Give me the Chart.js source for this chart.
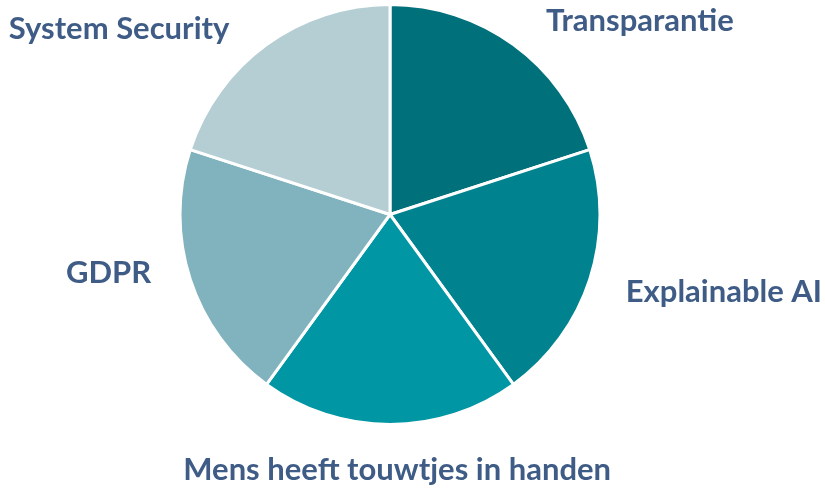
<!DOCTYPE html>
<html>
<head>
<meta charset="utf-8">
<script src="https://cdn.jsdelivr.net/npm/chart.js@4/dist/chart.umd.min.js"></script>
<style>
  html, body { margin: 0; padding: 0; background: #ffffff; }
  #wrap { width: 825px; height: 492px; position: relative; }
</style>
</head>
<body>
<div id="wrap"><canvas id="pie" width="825" height="492"></canvas></div>
<script>
// Five themes, equally weighted
const categories = [
  'Transparantie',
  'Explainable AI',
  'Mens heeft touwtjes in handen',
  'GDPR',
  'System Security'
];
const shares = [20, 20, 20, 20, 20];
const sliceColors = ['#00707a', '#00838f', '#0096a3', '#80b3be', '#b4ced4'];

// Label anchors, relative to the pie centre in units of the radius
const labelAnchors = [
  { dx: 1.19, dy: -0.92 },
  { dx: 1.59, dy: 0.37 },
  { dx: 0.034, dy: 1.216 },
  { dx: -1.34, dy: 0.28 },
  { dx: -1.29, dy: -0.885 }
];

const outerLabels = {
  id: 'outerLabels',
  afterDatasetsDraw(chart, args, opts) {
    const ctx = chart.ctx;
    const arcs = chart.getDatasetMeta(0).data;
    if (!arcs.length) return;
    const cx = arcs[0].x, cy = arcs[0].y, r = arcs[0].outerRadius;
    ctx.save();
    ctx.font = opts.font;
    ctx.fillStyle = opts.color;
    ctx.textAlign = 'center';
    ctx.textBaseline = 'middle';
    chart.data.labels.forEach((txt, i) => {
      const a = opts.anchors[i];
      ctx.fillText(txt, cx + a.dx * r, cy + a.dy * r);
    });
    ctx.restore();
  }
};

new Chart(document.getElementById('pie'), {
  type: 'pie',
  data: {
    labels: categories,
    datasets: [{
      data: shares,
      backgroundColor: sliceColors,
      borderColor: '#ffffff',
      borderWidth: 3
    }]
  },
  options: {
    responsive: false,
    animation: false,
    layout: { padding: { top: 3, bottom: 66, left: 178.5, right: 223.5 } },
    plugins: {
      legend: { display: false },
      tooltip: { enabled: false },
      outerLabels: {
        font: 'bold 31px Lato',
        color: '#3f5c86',
        anchors: labelAnchors
      }
    }
  },
  plugins: [outerLabels]
});
</script>
</body>
</html>
